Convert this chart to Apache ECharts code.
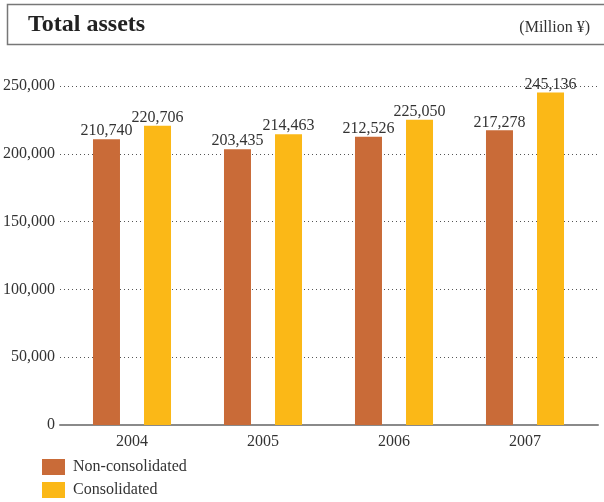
<!DOCTYPE html>
<html>
<head>
<meta charset="utf-8">
<script src="https://cdn.jsdelivr.net/npm/echarts@6/dist/echarts.min.js"></script>
<style>
  html, body { margin: 0; padding: 0; background: #fff; }
  #chart { width: 604px; height: 502px; }
</style>
</head>
<body>
<div id="chart"></div>
<script>
// Fiscal years on the category axis
const years = ['2004', '2005', '2006', '2007'];
// Total assets, million yen
const nonConsolidated = [210740, 203435, 212526, 217278];
const consolidated = [220706, 214463, 225050, 245136];
// Value axis ticks
const yTicks = [0, 50000, 100000, 150000, 200000, 250000];

const SERIF = '"Liberation Serif", "DejaVu Serif", serif';
const TEXT = '#333';
const fmt = v => v.toLocaleString('en-US');

const chart = echarts.init(document.getElementById('chart'), null, { renderer: 'canvas' });

const yMin = yTicks[0];
const yMax = yTicks[yTicks.length - 1];
const yStep = yTicks[1] - yTicks[0];

const barLabel = {
  show: true,
  position: 'top',
  distance: 0,
  color: TEXT,
  fontFamily: SERIF,
  fontSize: 16,
  formatter: p => fmt(p.value)
};

chart.setOption({
  animation: false,
  backgroundColor: '#fff',
  graphic: [
    {
      type: 'rect',
      shape: { x: 7.5, y: 4.5, width: 604, height: 40 },
      style: { fill: 'none', stroke: '#777', lineWidth: 1.5 }
    },
    {
      type: 'text',
      x: 28, y: 25,
      style: {
        text: 'Total assets', font: 'bold 24px ' + SERIF, fill: '#222',
        verticalAlign: 'middle'
      }
    },
    {
      type: 'text',
      x: 590, y: 27.5,
      style: {
        text: '(Million ¥)', font: '16px ' + SERIF, fill: TEXT,
        align: 'right', verticalAlign: 'middle'
      }
    }
  ],
  legend: {
    orient: 'vertical',
    left: 42,
    top: 459,
    padding: 0,
    itemWidth: 23,
    itemHeight: 16,
    itemGap: 7,
    icon: 'rect',
    textStyle: { fontFamily: SERIF, fontSize: 16, color: TEXT, padding: [0, 0, 0, 3] },
    data: ['Non-consolidated', 'Consolidated']
  },
  grid: [
    // plotting area for the bars
    { left: 66.5, right: 13.5, top: 86, bottom: 77 },
    // wider frame carrying the dotted rules and the base line
    { left: 60, right: 6, top: 86, bottom: 77 }
  ],
  xAxis: [
    {
      gridIndex: 0,
      type: 'category',
      data: years,
      axisLine: { show: false },
      axisTick: { show: false },
      axisLabel: { color: TEXT, fontFamily: SERIF, fontSize: 16, margin: 9 }
    },
    {
      gridIndex: 1,
      type: 'value',
      min: 0, max: 1,
      axisLine: { show: true, lineStyle: { color: '#8a8a8a', width: 2 } },
      axisTick: { show: false },
      axisLabel: { show: false },
      splitLine: { show: false }
    }
  ],
  yAxis: [
    {
      gridIndex: 0,
      type: 'value',
      min: yMin, max: yMax, interval: yStep,
      axisLine: { show: false },
      axisTick: { show: false },
      splitLine: { show: false },
      axisLabel: { show: false }
    },
    {
      gridIndex: 1,
      type: 'value',
      min: yMin, max: yMax, interval: yStep,
      axisLine: { show: false },
      axisTick: { show: false },
      axisLabel: {
        color: TEXT, fontFamily: SERIF, fontSize: 16, margin: 5,
        formatter: v => fmt(v)
      },
      splitLine: {
        show: true,
        lineStyle: { color: '#555', width: 1, type: [1, 3] }
      }
    }
  ],
  series: [
    {
      name: 'Non-consolidated',
      type: 'bar',
      xAxisIndex: 0, yAxisIndex: 0,
      data: nonConsolidated,
      barWidth: 27,
      barGap: '89%',
      itemStyle: { color: '#C96B38' },
      label: barLabel
    },
    {
      name: 'Consolidated',
      type: 'bar',
      xAxisIndex: 0, yAxisIndex: 0,
      data: consolidated,
      barWidth: 27,
      itemStyle: { color: '#FBB817' },
      label: barLabel
    }
  ]
});
</script>
</body>
</html>
